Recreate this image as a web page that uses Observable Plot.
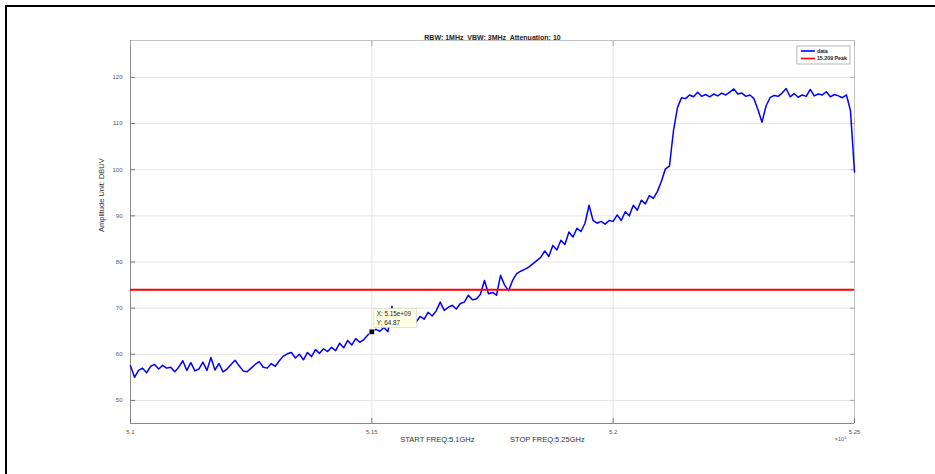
<!DOCTYPE html>
<html><head><meta charset="utf-8">
<script src="https://cdn.jsdelivr.net/npm/d3@7"></script>
<script src="https://cdn.jsdelivr.net/npm/@observablehq/plot@0.6"></script>
<style>
html,body{margin:0;padding:0;background:#fff;width:935px;height:474px;overflow:hidden;}
#chart{position:absolute;left:0;top:0;}
#border{position:absolute;left:5px;top:5px;width:940px;height:480px;border-top:2px solid #000;border-left:2px solid #000;pointer-events:none;}
svg text{white-space:pre;}
</style></head><body>
<div id="chart"></div><div id="border"></div>
<script>
// Sweep definition (GHz, plotted in units of 1e9 Hz)
const startGHz = 5.1, stopGHz = 5.25;
const amplitude = [
57.5,55.0,56.5,57.0,56.0,57.4,57.8,56.8,57.6,57.0,
57.2,56.2,57.2,58.6,56.5,58.2,56.4,56.8,58.3,56.5,
59.3,56.6,58.0,56.2,56.8,57.8,58.7,57.5,56.4,56.2,
57.0,57.8,58.4,57.2,57.0,58.0,57.4,58.6,59.6,60.1,
60.4,59.2,60.0,58.8,60.4,59.5,61.0,60.2,61.2,60.6,
61.5,60.8,62.4,61.4,63.0,62.0,63.4,62.6,63.2,64.2,
64.87,65.4,65.0,65.8,64.9,70.4,66.0,66.8,66.2,67.4,
68.4,67.0,68.2,67.6,69.1,68.3,69.4,71.3,69.5,70.2,
70.6,69.8,71.0,71.3,72.8,71.8,72.0,73.0,76.0,73.1,
73.4,72.8,77.1,75.0,73.8,76.0,77.5,78.0,78.4,78.9,
79.6,80.3,81.0,82.4,81.2,83.6,82.6,84.7,83.8,86.5,
85.4,87.3,86.6,88.4,92.3,89.0,88.4,88.8,88.2,89.0,
88.8,90.2,89.0,90.9,90.0,92.3,91.2,93.4,92.6,94.4,
93.8,95.3,97.5,100.2,100.8,108.5,113.5,115.6,115.4,116.2,
115.8,116.8,115.9,116.3,115.8,116.4,116.0,116.6,116.2,116.8,
117.5,116.4,116.6,115.9,116.2,115.4,113.0,110.3,113.8,115.6,
116.1,115.9,116.6,117.6,115.8,116.5,115.7,116.2,115.9,117.4,
116.0,116.4,116.2,116.9,115.8,116.3,116.0,115.6,116.2,112.8,
99.5
];
const limitValue = [74];
const seriesNames = ["data", "15.209 Peak"];
const seriesColors = ["#0000ff", "#ff0000"];
const xTicks = [5.1, 5.15, 5.2, 5.25];
const xTickLabels = ["5.1", "5.15", "5.2", "5.25"];
const yTicks = [50, 60, 70, 80, 90, 100, 110, 120];
const yDomain = [45, 128];
const tipPoint = [{f: 5.15, v: 64.87}];
const titleText = "RBW: 1MHz  VBW: 3MHz  Attenuation: 10";
const xLabelText = "START FREQ:5.1GHz                 STOP FREQ:5.25GHz";
const yLabelText = "Amplitude Unit: DBUV";
const exponentText = "\u00d710\u2079";

const n = amplitude.length;
const data = amplitude.map((v, i) => ({f: startGHz + i * (stopGHz - startGHz) / (n - 1), v}));
const fmtExp = x => x.toExponential(2).replace(/e\+(\d)$/, "e+0$1");

const font = "'Liberation Sans', Arial, Helvetica, sans-serif";
const plot = Plot.plot({
  width: 935, height: 474,
  marginLeft: 130, marginRight: 81, marginTop: 40, marginBottom: 51,
  style: {fontFamily: font, background: "#fff", overflow: "visible"},
  x: {domain: [startGHz, stopGHz]},
  y: {domain: yDomain},
  marks: [
    Plot.gridY(yTicks, {stroke: "#e4e4e4", strokeOpacity: 1}),
    Plot.gridX(xTicks, {stroke: "#e4e4e4", strokeOpacity: 1}),
    Plot.ruleY([yDomain[1]], {stroke: "#c2c2c2"}),
    Plot.ruleX([stopGHz], {stroke: "#c2c2c2"}),
    Plot.ruleX([startGHz], {stroke: "#8a8a8a"}),
    Plot.ruleY([yDomain[0]], {stroke: "#8a8a8a"}),
    Plot.axisY(yTicks, {anchor: "left", tickSize: 5, dx: 5, fill: "none", stroke: "#777", label: null}),
    Plot.axisY(yTicks, {anchor: "right", tickSize: 5, dx: -5, fill: "none", stroke: "#aaa", label: null}),
    Plot.axisY(yTicks, {anchor: "left", tickSize: 0, tickPadding: 8, fontSize: 6, fill: "#555", label: null}),
    Plot.axisX(xTicks, {anchor: "bottom", tickSize: 5, dy: -5, fill: "none", stroke: "#777", label: null}),
    Plot.axisX(xTicks, {anchor: "top", tickSize: 5, dy: 5, fill: "none", stroke: "#aaa", label: null}),
    Plot.axisX(xTicks, {anchor: "bottom", tickSize: 0, tickPadding: 6, fontSize: 6, fill: "#555", label: null,
      tickFormat: d => xTickLabels[xTicks.indexOf(d)]}),
    Plot.line(data, {x: "f", y: "v", stroke: seriesColors[0], strokeWidth: 1.5}),
    Plot.ruleY(limitValue, {stroke: seriesColors[1], strokeWidth: 2}),
    Plot.text(tipPoint, {x: "f", y: "v", text: d => `X: ${fmtExp(d.f * 1e9)}\nY: ${d.v.toFixed(2)}`,
      textAnchor: "start", lineAnchor: "bottom", lineHeight: 1.35, dx: 5, dy: -7, fontSize: 6.3, fill: "#222", className: "tiplabel"}),
    Plot.dot(tipPoint, {x: "f", y: "v", symbol: "square", r: 3, fill: "#000", stroke: "#fff", strokeWidth: 0.6}),
    Plot.text([titleText], {frameAnchor: "top", dy: -5, fontSize: 7, fontWeight: "bold", fill: "#222"}),
    Plot.text([xLabelText], {frameAnchor: "bottom", dy: 18, fontSize: 7.5, fill: "#333"}),
    Plot.text([yLabelText], {frameAnchor: "left", dx: -29, rotate: -90, fontSize: 7.5, fill: "#333"}),
    Plot.text([exponentText], {frameAnchor: "bottom-right", dx: -8, dy: 17, fontSize: 5.5, fill: "#555"})
  ]
});
document.getElementById("chart").appendChild(plot);

// datatip box behind label (inserted inside the label's own group so coordinates match)
const svg = d3.select(plot);
const tipG = plot.querySelector("g.tiplabel");
if (tipG) {
  const bb = tipG.getBBox();
  const r = document.createElementNS("http://www.w3.org/2000/svg", "rect");
  r.setAttribute("x", bb.x - 3); r.setAttribute("y", bb.y - 2);
  r.setAttribute("width", bb.width + 8); r.setAttribute("height", bb.height + 3.5);
  r.setAttribute("fill", "#ffffe1"); r.setAttribute("stroke", "#d0d0d0"); r.setAttribute("stroke-width", 0.6);
  tipG.insertBefore(r, tipG.firstChild);
}

// legend
const xs = plot.scale("x"), ys = plot.scale("y");
const frameRight = xs.apply(stopGHz), frameTop = ys.apply(yDomain[1]);
const lg = svg.append("g").attr("font-family", font).attr("font-size", 5.3).attr("font-weight", "bold")
  .attr("text-anchor", "start");
const box = lg.append("rect").attr("fill", "#fff").attr("stroke", "#999").attr("stroke-width", 0.7);
const rowH = 7.5;
const items = lg.selectAll("g.item").data(seriesNames).join("g").attr("class", "item")
  .attr("transform", (d, i) => `translate(0,${i * rowH})`);
items.append("line").attr("x1", 4).attr("x2", 18).attr("y1", 0).attr("y2", 0)
  .attr("stroke", (d, i) => seriesColors[i]).attr("stroke-width", 1.6);
items.append("text").attr("x", 20).attr("y", 0).attr("dy", "0.35em").attr("text-anchor", "start")
  .attr("fill", "#222").text(d => d);
let maxX = 0;
items.selectAll("text").each(function() { const b = this.getBBox(); maxX = Math.max(maxX, b.x + b.width); });
const boxW = maxX + 3, boxH = rowH * seriesNames.length + 3;
box.attr("x", 0).attr("y", -5).attr("width", boxW).attr("height", boxH);
lg.attr("transform", `translate(${frameRight - 4 - boxW},${frameTop + 11})`);
</script>
</body></html>
